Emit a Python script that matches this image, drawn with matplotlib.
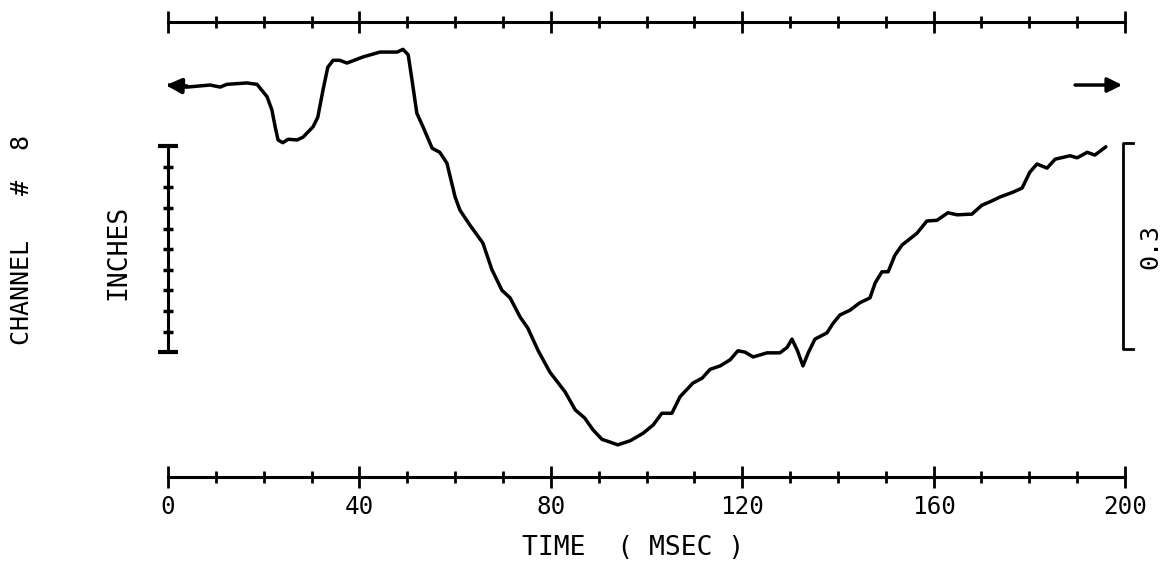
#!/usr/bin/env python3
#
# CHANNEL 8 DISPLACEMENT TRACE (PLOTTER STYLE)
#

import matplotlib

matplotlib.use("Agg")
import matplotlib.pyplot as plt
from matplotlib.pyplot import Figure, Axes
from matplotlib.ticker import MultipleLocator

plt.rcParams["font.family"] = ["DejaVu Sans Mono", "DejaVu Sans"]

### DATA ###

# time (msec)
time_ms: list[float] = [
    0.0, 4.0, 8.8, 10.9, 12.3, 16.5, 18.6, 20.7, 21.7, 22.4, 23.0, 24.0, 25.1,
    27.0, 28.2, 30.3, 31.3, 32.4, 33.4, 34.5, 35.9, 37.4, 40.8, 44.3, 47.9,
    49.1, 50.2, 51.0, 52.0, 53.3, 55.2, 56.8, 58.3, 60.0, 61.0, 63.1, 65.8,
    67.7, 69.8, 71.5, 73.6, 75.2, 77.3, 79.8, 83.0, 85.1, 87.1, 88.8, 90.7,
    92.4, 94.0, 96.6, 99.3, 101.4, 103.2, 105.3, 107.0, 109.7, 111.6, 113.3,
    115.4, 117.5, 119.1, 120.6, 122.3, 125.2, 127.9, 129.4, 130.4, 131.5,
    132.7, 133.8, 135.2, 137.7, 139.0, 140.4, 142.5, 144.6, 146.7, 147.8,
    149.2, 150.5, 151.9, 153.4, 156.5, 158.6, 160.7, 163.0, 164.9, 168.0,
    170.1, 171.8, 173.9, 176.6, 178.5, 180.1, 181.6, 183.7, 185.4, 188.5,
    190.0, 192.1, 193.7, 196.0,
]
# displacement (inches), zero at the initial level
disp_in: list[float] = [
    0.000, -0.003, 0.000, -0.003, 0.001, 0.003, 0.001, -0.017, -0.036, -0.061,
    -0.080, -0.084, -0.079, -0.080, -0.076, -0.061, -0.047, -0.007, 0.026,
    0.036, 0.036, 0.032, 0.041, 0.048, 0.048, 0.052, 0.044, 0.007, -0.041,
    -0.061, -0.092, -0.098, -0.114, -0.163, -0.182, -0.204, -0.230, -0.269,
    -0.299, -0.310, -0.338, -0.354, -0.386, -0.418, -0.447, -0.473, -0.485,
    -0.502, -0.516, -0.520, -0.524, -0.518, -0.507, -0.495, -0.478, -0.478,
    -0.454, -0.434, -0.427, -0.414, -0.409, -0.400, -0.387, -0.389, -0.396,
    -0.390, -0.390, -0.382, -0.370, -0.386, -0.409, -0.390, -0.370, -0.361,
    -0.347, -0.335, -0.328, -0.317, -0.310, -0.288, -0.272, -0.272, -0.248,
    -0.233, -0.216, -0.198, -0.197, -0.186, -0.189, -0.188, -0.175, -0.170,
    -0.163, -0.156, -0.150, -0.127, -0.115, -0.121, -0.108, -0.103, -0.106,
    -0.098, -0.102, -0.090,
]

time_ticks: list[int] = [0, 40, 80, 120, 160, 200]
time_minor: int = 10

scale_top: float = -0.089  # inches, top of the left scale bar
scale_span: float = 0.3  # inches
scale_step: float = 0.03
bracket_top: float = -0.0845
bracket_label: str = "0.3"

### FIGURE ###

w: float = 11.76
h: float = 5.64
ink: str = "black"

fig: Figure = plt.figure(figsize=(w, h), dpi=100)
ax: Axes = fig.add_axes([168 / 1176, 87 / 564, 957 / 1176, 455.5 / 564])
ax.set_xlim(0, 200)
ax.set_ylim(-0.5708, 0.0925)

for side in ["left", "right"]:
    ax.spines[side].set_visible(False)
for side in ["top", "bottom"]:
    ax.spines[side].set_linewidth(2.2)

ax.set_yticks([])
ax.set_xticks(time_ticks)
ax.xaxis.set_minor_locator(MultipleLocator(time_minor))
ax.tick_params(
    axis="x", which="major", direction="inout", length=16, width=2,
    top=True, bottom=True, labelsize=17.5, pad=5,
)
ax.tick_params(axis="x", which="minor", direction="inout", length=8, width=2, top=True)

# the trace
ax.plot(time_ms, disp_in, color=ink, lw=2.5, solid_joinstyle="round", solid_capstyle="round")

# left scale bar (0.3 in, ten divisions)
n_div: int = round(scale_span / scale_step)
bar_y: list[float] = [scale_top - i * scale_step for i in range(n_div + 1)]
ax.plot([0, 0], [bar_y[0], bar_y[-1]], color=ink, lw=2.2, clip_on=False)
ax.plot([0] * (n_div - 1), bar_y[1:-1], ls="none", marker="_", ms=7, mew=2.5, color=ink, clip_on=False)
ax.plot([0, 0], [bar_y[0], bar_y[-1]], ls="none", marker="_", ms=15, mew=3, color=ink, clip_on=False)

# right bracket with its label
bx: float = 199.6
ax.plot(
    [201.6, bx, bx, 201.6],
    [bracket_top, bracket_top, bracket_top - scale_span, bracket_top - scale_span],
    color=ink, lw=2, clip_on=False,
)
ax.text(205.3, bracket_top - scale_span / 2, bracket_label, rotation=90,
        ha="center", va="center", fontsize=18)

# direction arrows
ax.annotate("", xy=(-1.0, disp_in[0]), xytext=(4.5, disp_in[0] - 0.002),
            arrowprops=dict(arrowstyle="-|>", lw=3, mutation_scale=22, color=ink),
            annotation_clip=False)
ax.annotate("", xy=(200, 0.0), xytext=(189, 0.0),
            arrowprops=dict(arrowstyle="-|>", lw=2.5, mutation_scale=22, color=ink),
            annotation_clip=False)

# axis titles
fig.text(22 / 1176, 1 - 240 / 564, "CHANNEL   #  8", rotation=90,
         ha="center", va="center", fontsize=18)
fig.text(118 / 1176, 1 - 252 / 564, "INCHES", rotation=90,
         ha="center", va="center", fontsize=19)
fig.text(633 / 1176, 1 - 548 / 564, "TIME  ( MSEC )",
         ha="center", va="center", fontsize=19)

fig.savefig("out.png", dpi=100)
